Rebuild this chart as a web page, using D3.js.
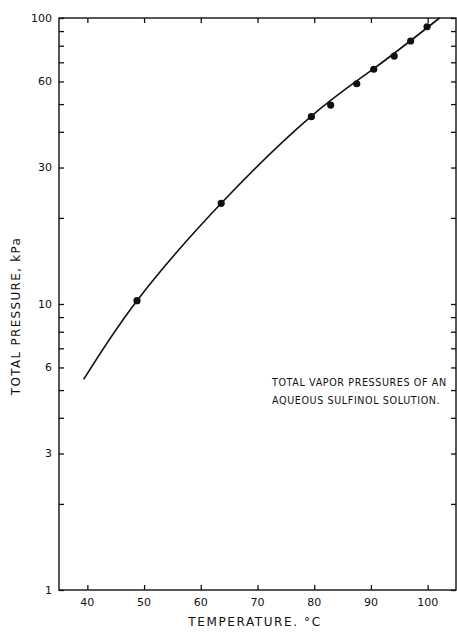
<!DOCTYPE html>
<html>
<head>
<meta charset="utf-8">
<script src="https://cdn.jsdelivr.net/npm/d3@7"></script>
<style>
html,body{margin:0;padding:0;background:#fff;}
svg{display:block;}
text{font-family:"DejaVu Sans","Liberation Sans",sans-serif;fill:#111;}
</style>
</head>
<body>
<svg id="chart" width="457" height="634"></svg>
<script>
// Measured data points (temperature °C, total pressure kPa)
const pointTemps = [48.75, 63.6, 79.5, 82.9, 87.5, 90.5, 94.1, 97.0, 99.9];
const pointPressures = [10.27, 22.5, 45.2, 49.6, 58.9, 66.2, 73.6, 83.1, 93.2];
// Smooth fitted curve
const curveTemps = [39.35, 48.75, 63.6, 79.4, 90.5, 102.1];
const curvePressures = [5.45, 10.27, 22.5, 45.2, 66.5, 100];
// Axis ticks
const xTicks = [40, 50, 60, 70, 80, 90, 100];
const yLabeled = [1, 3, 6, 10, 30, 60, 100];
const yMinor = [2, 4, 5, 7, 8, 9, 20, 40, 50, 70, 80, 90];
const noteLines = ["TOTAL VAPOR PRESSURES OF AN", "AQUEOUS SULFINOL SOLUTION."];

(function () {
const svg = d3.select("#chart");
const mLeft = 59, mRight = 456, mTop = 18, mBottom = 590;
const x = d3.scaleLinear().domain([35, 105]).range([mLeft, mRight]);
const y = d3.scaleLog().domain([1, 100]).range([mBottom, mTop]);
const allY = yLabeled.concat(yMinor);

const g = svg.append("g");
g.append("rect").attr("x", mLeft).attr("y", mTop).attr("width", mRight - mLeft).attr("height", mBottom - mTop)
  .attr("fill", "none").attr("stroke", "#111").attr("stroke-width", 1.4);

const tl = 5;
const styleTicks = a => { a.select(".domain").remove(); a.selectAll("line").attr("stroke", "#111").attr("stroke-width", 1.3); };
g.append("g").attr("transform", `translate(${mLeft},0)`)
  .call(d3.axisRight(y).tickValues(allY).tickSize(tl).tickFormat("")).call(styleTicks);
g.append("g").attr("transform", `translate(${mRight},0)`)
  .call(d3.axisLeft(y).tickValues(allY).tickSize(tl).tickFormat("")).call(styleTicks);
g.append("g").attr("transform", `translate(0,${mBottom})`)
  .call(d3.axisTop(x).tickValues(xTicks).tickSize(tl).tickFormat("")).call(styleTicks);
g.append("g").attr("transform", `translate(0,${mTop})`)
  .call(d3.axisBottom(x).tickValues(xTicks).tickSize(tl).tickFormat("")).call(styleTicks);

g.selectAll(".ylab").data(yLabeled).enter().append("text")
  .attr("x", mLeft - 7).attr("y", d => y(d)).attr("dy", "0.35em")
  .attr("text-anchor", "end").attr("font-size", 11).text(d => d);
g.selectAll(".xlab").data(xTicks).enter().append("text")
  .attr("x", d => x(d)).attr("y", mBottom + 16)
  .attr("text-anchor", "middle").attr("font-size", 11).text(d => d);

g.append("text").attr("x", 255).attr("y", 626).attr("text-anchor", "middle")
  .attr("font-size", 12).attr("letter-spacing", 1.6).text("TEMPERATURE.  °C");
g.append("text").attr("transform", "translate(20,316) rotate(-90)").attr("text-anchor", "middle")
  .attr("font-size", 12).attr("letter-spacing", 1.3).text("TOTAL PRESSURE,  kPa");

g.selectAll(".note").data(noteLines).enter().append("text")
  .attr("x", 272).attr("y", (d, i) => 386 + i * 18)
  .attr("font-size", 9.6).attr("letter-spacing", 0.6).text(d => d);

const curveData = curveTemps.map((t, i) => [t, curvePressures[i]]);
g.append("path").datum(curveData)
  .attr("d", d3.line().x(d => x(d[0])).y(d => y(d[1])).curve(d3.curveNatural))
  .attr("fill", "none").attr("stroke", "#111").attr("stroke-width", 1.6);

g.selectAll(".pt").data(pointTemps.map((t, i) => [t, pointPressures[i]])).enter().append("circle")
  .attr("cx", d => x(d[0])).attr("cy", d => y(d[1])).attr("r", 3.6).attr("fill", "#111");
})();
</script>
</body>
</html>
